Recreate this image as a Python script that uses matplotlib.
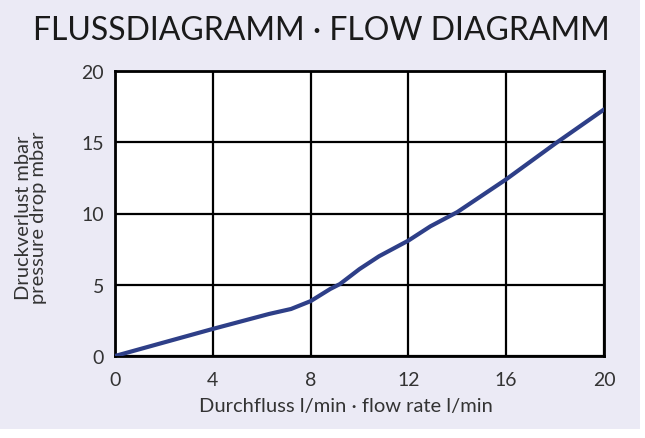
import matplotlib
matplotlib.use("Agg")
import matplotlib.pyplot as plt
from matplotlib.patches import Rectangle

flow = [0, 4, 6.3, 7.2, 8, 8.8, 9.2, 10, 10.8, 12, 12.9, 14, 16, 18, 20]
pressure = [0, 1.9, 2.95, 3.3, 3.85, 4.7, 5.05, 6.1, 7.0, 8.1, 9.1, 10.1, 12.4, 14.9, 17.3]
x_ticks = [0, 4, 8, 12, 16, 20]
y_ticks = [0, 5, 10, 15, 20]

plt.rcParams["font.family"] = ["Lato", "DejaVu Sans"]

W, H = 645, 439
fig = plt.figure(figsize=(W / 100, H / 100), dpi=100, facecolor="white")
fig.patches.append(Rectangle((0, 9 / H), 640 / W, 1 - 9 / H,
                             transform=fig.transFigure, facecolor="#ebeaf5",
                             edgecolor="none", zorder=-10))

ax = fig.add_axes([115 / W, 1 - 357 / H, (604 - 115) / W, (357 - 72) / H])
ax.set_zorder(1)
ax.set_facecolor("white")
ax.plot(flow, pressure, color="#2e3f88", linewidth=3, solid_capstyle="round",
        solid_joinstyle="round", zorder=3)

ax.set_xlim(0, 20)
ax.set_ylim(0, 20)
ax.set_xticks(x_ticks)
ax.set_yticks(y_ticks)
ax.grid(True, color="black", linewidth=1.6)
ax.tick_params(length=0, labelsize=14, colors="#333333")
ax.tick_params(axis="x", pad=11)
ax.tick_params(axis="y", pad=8)
for s in ax.spines.values():
    s.set_linewidth(2)
    s.set_color("black")

ax.set_xlabel("Durchfluss l/min · flow rate l/min", fontsize=14.5, color="#333333", va="center")
ax.xaxis.set_label_coords(0.472, -0.175)
ax.set_ylabel("Druckverlust mbar\npressure drop mbar", fontsize=14.5, color="#333333",
              linespacing=0.9, va="center")
ax.yaxis.set_label_coords(-0.172, 0.49)

fig.text(321 / W, 1 - 31 / H, "FLUSSDIAGRAMM · FLOW DIAGRAMM", ha="center", va="center",
         fontsize=23, color="#1a1a1a")

fig.savefig("out.png", dpi=100, facecolor=fig.get_facecolor())
